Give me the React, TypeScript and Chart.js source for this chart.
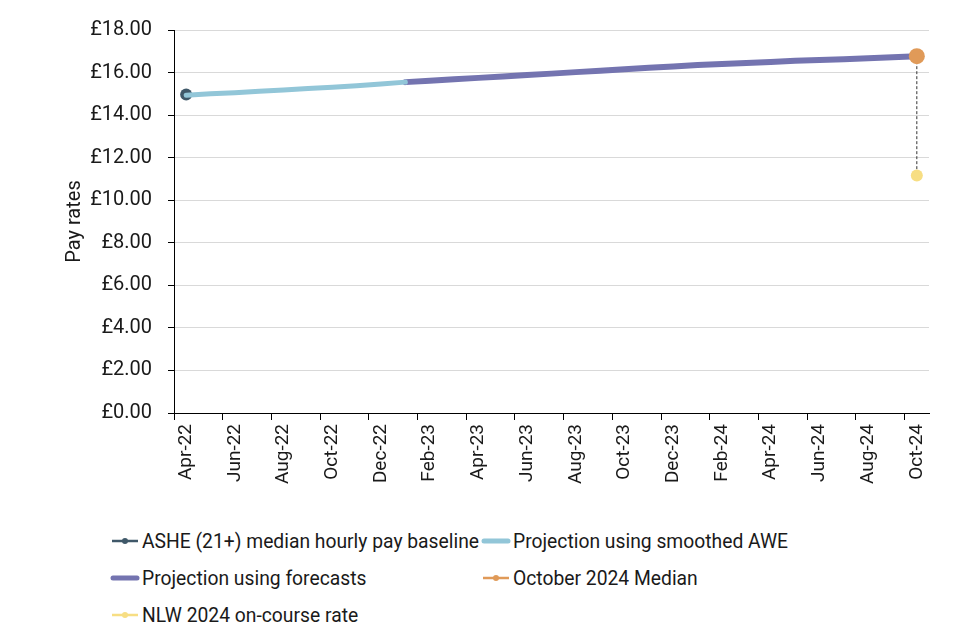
import React, { useEffect, useRef } from "react";
import { Chart, registerables } from "chart.js";

Chart.register(...registerables);

const months = [
  "Apr-22", "May-22", "Jun-22", "Jul-22", "Aug-22", "Sep-22", "Oct-22", "Nov-22", "Dec-22", "Jan-23",
  "Feb-23", "Mar-23", "Apr-23", "May-23", "Jun-23", "Jul-23", "Aug-23", "Sep-23", "Oct-23", "Nov-23",
  "Dec-23", "Jan-24", "Feb-24", "Mar-24", "Apr-24", "May-24", "Jun-24", "Jul-24", "Aug-24", "Sep-24",
  "Oct-24",
];

const baselineMonth = "Apr-22";
const baselineValue = 14.97;

const aweValues = [14.93, 15.0, 15.05, 15.12, 15.18, 15.25, 15.31, 15.38, 15.46, 15.55];

const forecastStart = 9;
const forecastValues = [
  15.55, 15.62, 15.68, 15.75, 15.81, 15.88, 15.95, 16.02, 16.09, 16.16, 16.23, 16.29,
  16.35, 16.4, 16.45, 16.5, 16.55, 16.59, 16.63, 16.67, 16.72, 16.77,
];

const finalMonth = "Oct-24";
const octoberMedian = 16.77;
const nlwRate = 11.16;

const yTicks = [0, 2, 4, 6, 8, 10, 12, 14, 16, 18];

const seriesLabels = [
  "ASHE (21+) median hourly pay baseline",
  "Projection using smoothed AWE",
  "Projection using forecasts",
  "October 2024 Median",
  "NLW 2024 on-course rate",
];
const seriesColors = ["#3f5869", "#92c6d8", "#7474b0", "#e09a58", "#f7de83"];

const FONT = "Roboto, 'Liberation Sans', sans-serif";
const TEXT = "#1a1a1a";

function alignToMonths(values: number[], start: number): (number | null)[] {
  return months.map((_, i) => (i >= start && i - start < values.length ? values[i - start] : null));
}

function LegendMarker({ kind, color }: { kind: "dot" | "thick"; color: string }) {
  return (
    <svg width={30} height={12} style={{ display: "block", flex: "none" }}>
      {kind === "thick" ? (
        <line x1={3} y1={6} x2={27} y2={6} stroke={color} strokeWidth={5} strokeLinecap="round" />
      ) : (
        <>
          <line x1={2} y1={6} x2={28} y2={6} stroke={color} strokeWidth={2.5} />
          <circle cx={15} cy={6} r={3} fill={color} />
        </>
      )}
    </svg>
  );
}

export default function App() {
  const canvasRef = useRef<HTMLCanvasElement | null>(null);

  useEffect(() => {
    document.body.style.margin = "0";
    const canvas = canvasRef.current;
    if (!canvas) return;
    const chart = new Chart(canvas, {
      type: "line",
      data: {
        labels: months,
        datasets: [
          {
            label: seriesLabels[0],
            data: months.map((m) => (m === baselineMonth ? baselineValue : null)),
            borderColor: seriesColors[0],
            backgroundColor: seriesColors[0],
            pointRadius: 6,
            pointBorderWidth: 0,
            showLine: false,
            order: 4,
          },
          {
            label: seriesLabels[1],
            data: alignToMonths(aweValues, 0),
            borderColor: seriesColors[1],
            backgroundColor: seriesColors[1],
            borderWidth: 5,
            pointRadius: 0,
            borderCapStyle: "round",
            order: 2,
          },
          {
            label: seriesLabels[2],
            data: alignToMonths(forecastValues, forecastStart),
            borderColor: seriesColors[2],
            backgroundColor: seriesColors[2],
            borderWidth: 6,
            pointRadius: 0,
            borderCapStyle: "round",
            order: 3,
          },
          {
            label: seriesLabels[3],
            data: months.map((m) => (m === finalMonth ? octoberMedian : null)),
            borderColor: seriesColors[3],
            backgroundColor: seriesColors[3],
            pointRadius: 8,
            pointBorderWidth: 0,
            showLine: false,
            order: 0,
          },
          {
            label: seriesLabels[4],
            data: months.map((m) => (m === finalMonth ? nlwRate : null)),
            borderColor: seriesColors[4],
            backgroundColor: seriesColors[4],
            pointRadius: 6,
            pointBorderWidth: 0,
            showLine: false,
            order: 0,
          },
          {
            label: "drop",
            data: [
              { x: finalMonth, y: octoberMedian },
              { x: finalMonth, y: nlwRate },
            ] as any,
            borderColor: "#333333",
            borderWidth: 1,
            borderDash: [3, 2],
            pointRadius: 0,
            order: 5,
          },
        ],
      },
      options: {
        animation: false,
        responsive: false,
        devicePixelRatio: 1,
        layout: { padding: { left: 55, right: 31, top: 30, bottom: 0 } },
        plugins: {
          legend: { display: false },
          tooltip: { enabled: false },
        },
        scales: {
          x: {
            type: "category",
            offset: true,
            grid: {
              offset: true,
              drawOnChartArea: false,
              drawTicks: true,
              tickLength: 7,
              tickColor: (ctx: any) => (typeof ctx.index === "number" && ctx.index % 2 === 0 ? "#000" : "rgba(0,0,0,0)"),
            },
            border: { display: true, color: "#000", width: 1 },
            ticks: {
              autoSkip: false,
              maxRotation: 90,
              minRotation: 90,
              padding: 4,
              color: TEXT,
              font: { family: FONT, size: 19 },
              callback: (_v: any, i: number) => (i % 2 === 0 ? months[i] : ""),
            },
            afterFit: (scale: any) => {
              scale.height = 87;
            },
          },
          y: {
            min: 0,
            max: 18,
            afterBuildTicks: (scale: any) => {
              scale.ticks = yTicks.map((v) => ({ value: v }));
            },
            grid: {
              color: "#d9d9d9",
              tickColor: "#000",
              tickLength: 6,
              drawTicks: true,
            },
            border: { display: true, color: "#000", width: 1 },
            ticks: {
              padding: 16,
              color: TEXT,
              font: { family: FONT, size: 20 },
              callback: (v: any) => "£" + Number(v).toFixed(2),
            },
            title: {
              display: true,
              text: "Pay rates",
              color: TEXT,
              font: { family: FONT, size: 20 },
              padding: { top: 8, bottom: 0 },
            },
            afterFit: (scale: any) => {
              scale.width = 119;
            },
          },
        },
      },
    });
    return () => chart.destroy();
  }, []);

  const rowTop = [528, 565, 602];
  const items = [
    { i: 0, kind: "dot" as const, x: 110, row: 0 },
    { i: 1, kind: "thick" as const, x: 481, row: 0 },
    { i: 2, kind: "thick" as const, x: 110, row: 1 },
    { i: 3, kind: "dot" as const, x: 481, row: 1 },
    { i: 4, kind: "dot" as const, x: 110, row: 2 },
  ];

  return (
    <div style={{ position: "absolute", left: 0, top: 0, width: 960, height: 640, background: "#fff" }}>
      <canvas ref={canvasRef} width={960} height={500} style={{ display: "block" }} />
      {items.map((it) => (
        <div
          key={it.i}
          style={{
            position: "absolute",
            left: it.x,
            top: rowTop[it.row],
            height: 26,
            display: "flex",
            alignItems: "center",
            gap: 2,
            fontFamily: FONT,
            fontSize: 19.3,
            color: TEXT,
            whiteSpace: "nowrap",
          }}
        >
          <LegendMarker kind={it.kind} color={seriesColors[it.i]} />
          <span>{seriesLabels[it.i]}</span>
        </div>
      ))}
    </div>
  );
}
